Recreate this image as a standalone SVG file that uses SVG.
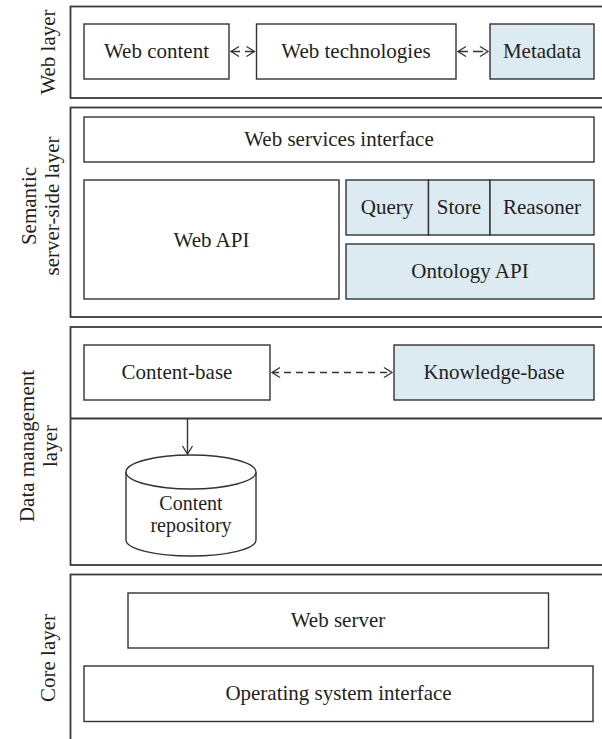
<svg xmlns="http://www.w3.org/2000/svg" width="602" height="739" viewBox="0 0 602 739">
<defs>
<style>
text{font-family:"Liberation Serif","Times New Roman",serif;font-size:21px;fill:#231f20;text-anchor:middle}
.small{font-size:20px}
.layer{fill:#fff;stroke:#3a3a3a;stroke-width:1.8}
.box{fill:#fff;stroke:#333;stroke-width:1.4}
.blue{fill:#dbebf1;stroke:#333;stroke-width:1.4}
.line{fill:none;stroke:#333;stroke-width:1.4}
.dash{fill:none;stroke:#333;stroke-width:1.3;stroke-dasharray:7,5}
</style>
<marker id="ah" markerUnits="userSpaceOnUse" markerWidth="12" markerHeight="14" viewBox="-10 -7 12 14" refX="0" refY="0" orient="auto-start-reverse">
<path d="M-8,-5 L0,0 L-8,5" fill="none" stroke="#333" stroke-width="1.3"/>
</marker>
</defs>
<rect width="602" height="739" fill="#fff"/>

<g id="web-layer">
<rect class="layer" x="70.5" y="6.5" width="600" height="91.5"/>
<text transform="translate(55,52) rotate(-90)">Web layer</text>
</g>
<g id="web-content">
<rect class="box" x="84" y="24" width="145" height="55"/>
<text x="156.5" y="58">Web content</text>
</g>
<g id="web-technologies">
<rect class="box" x="256.5" y="24" width="199.5" height="55"/>
<text x="356" y="58">Web technologies</text>
</g>
<g id="metadata">
<rect class="blue" x="490" y="24" width="104" height="55"/>
<text x="542" y="58">Metadata</text>
</g>

<g id="semantic-layer">
<rect class="layer" x="70.5" y="107.5" width="600" height="209.5"/>
<text transform="translate(36,206) rotate(-90)">Semantic</text>
<text transform="translate(59,206) rotate(-90)">server-side layer</text>
</g>
<g id="web-services-interface">
<rect class="box" x="84" y="117" width="510" height="45"/>
<text x="339" y="146">Web services interface</text>
</g>
<g id="web-api">
<rect class="box" x="84" y="180" width="255" height="119"/>
<text x="211.5" y="247">Web API</text>
</g>
<g id="query">
<rect class="blue" x="346" y="180" width="82.5" height="55"/>
<text x="387" y="214">Query</text>
</g>
<g id="store">
<rect class="blue" x="428.5" y="180" width="61.5" height="55"/>
<text x="459" y="214">Store</text>
</g>
<g id="reasoner">
<rect class="blue" x="490" y="180" width="104" height="55"/>
<text x="542" y="214">Reasoner</text>
</g>
<g id="ontology-api">
<rect class="blue" x="346" y="244" width="248" height="55"/>
<text x="470" y="278">Ontology API</text>
</g>

<g id="data-management-layer">
<rect class="layer" x="70.5" y="327" width="600" height="238"/>
<line class="layer" x1="70.5" y1="418.5" x2="602" y2="418.5"/>
<text transform="translate(34,446) rotate(-90)">Data management</text>
<text transform="translate(57,446) rotate(-90)">layer</text>
</g>
<g id="content-base">
<rect class="box" x="84" y="345" width="186" height="55"/>
<text x="177" y="379">Content-base</text>
</g>
<g id="knowledge-base">
<rect class="blue" x="394" y="345" width="200" height="55"/>
<text x="494" y="379">Knowledge-base</text>
</g>
<g id="content-repository">
<path class="box" d="M126,472 L126,540 A65,16 0 0 0 256,540 L256,472"/>
<ellipse class="box" cx="191" cy="472" rx="65" ry="17"/>
<text class="small" x="191" y="510">Content</text>
<text class="small" x="191" y="532">repository</text>
</g>

<g id="core-layer">
<rect class="layer" x="70.5" y="574.5" width="600" height="200"/>
<text transform="translate(55,658) rotate(-90)">Core layer</text>
</g>
<g id="web-server">
<rect class="box" x="128" y="593" width="420.5" height="55"/>
<text x="338" y="627">Web server</text>
</g>
<g id="operating-system-interface">
<rect class="box" x="84" y="666" width="509" height="55.5"/>
<text x="338.5" y="700">Operating system interface</text>
</g>

<g id="connectors">
<line class="dash" x1="231" y1="51.5" x2="254.5" y2="51.5" marker-start="url(#ah)" marker-end="url(#ah)" style="stroke-dasharray:9,5"/>
<line class="dash" x1="458" y1="51.5" x2="488" y2="51.5" marker-start="url(#ah)" marker-end="url(#ah)" style="stroke-dasharray:10,5"/>
<line class="dash" x1="272" y1="372.5" x2="392" y2="372.5" marker-start="url(#ah)" marker-end="url(#ah)"/>
<line class="line" x1="187.5" y1="419" x2="187.5" y2="454" marker-end="url(#ah)"/>
</g>
</svg>
